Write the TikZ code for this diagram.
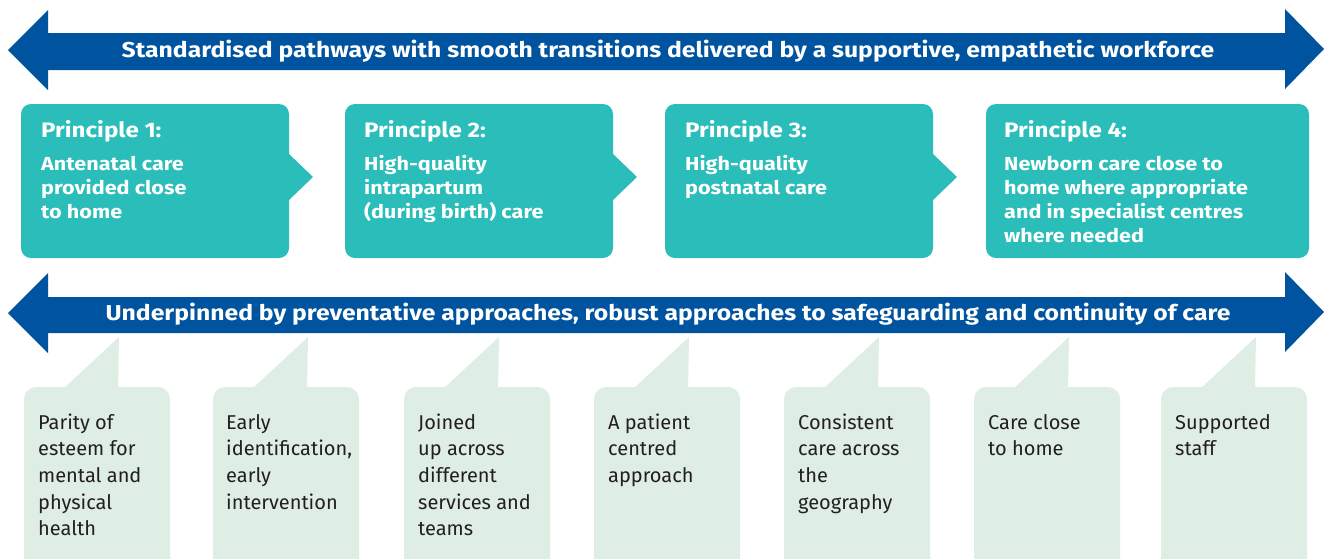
\documentclass[tikz,border=0pt]{standalone}
\usepackage{fontspec}
\setmainfont{Fira Sans}
\newfontfamily\wideboldfont[FakeStretch=1.15]{Fira Sans}
\newfontfamily\calloutfont{Fira Sans}
\definecolor{arrowblue}{HTML}{00539F}
\definecolor{teal}{HTML}{2BBDB9}
\definecolor{palegreen}{HTML}{DEEEE5}
\definecolor{darktext}{HTML}{231F20}
\tikzset{
  bigarrow/.style={fill=arrowblue, draw=none},
  principlebox/.style={fill=teal, draw=none, rounded corners=10pt},
  callbox/.style={fill=palegreen, draw=none, rounded corners=12pt},
  arrowtext/.style={text=white, font=\wideboldfont\bfseries\fontsize{21.5}{24}\selectfont, inner sep=0pt, anchor=base},
  ptitle/.style={text=white, font=\wideboldfont\bfseries\fontsize{21}{24}\selectfont, inner sep=0pt, anchor=base west},
  pbody/.style={text=white, font=\wideboldfont\bfseries\fontsize{18.8}{24}\selectfont, inner sep=0pt, anchor=base west, align=left},
  ctext/.style={text=darktext, font=\calloutfont\fontsize{20}{26.7}\selectfont, inner sep=0pt, anchor=base west, align=left},
}
\begin{document}
\begin{tikzpicture}[x=1pt,y=-1pt]
\useasboundingbox (0,0) rectangle (1324,558);
\clip (0,0) rectangle (1324,558);
% top arrow
\fill[bigarrow] (8,50) -- (48,10) -- (48,33) -- (1285,33) -- (1285,9) -- (1324,49) -- (1285,89) -- (1285,70) -- (48,70) -- (48,90) -- cycle;
\node[arrowtext] (toptext) at (668,57) {Standardised pathways with smooth transitions delivered by a supportive, empathetic workforce};
% bottom arrow
\fill[bigarrow] (8,313) -- (48,273) -- (48,297) -- (1285,297) -- (1285,272) -- (1324,312) -- (1285,352) -- (1285,333) -- (48,333) -- (48,353) -- cycle;
\node[arrowtext] (bottext) at (668,320) {Underpinned by preventative approaches, robust approaches to safeguarding and continuity of care};
% principle boxes
\foreach \x/\w in {21/268,345/268,665/268,986/323}{
  \fill[principlebox] (\x,104) rectangle ++(\w,154);
}
\foreach \x in {288,612,932}{
  \fill[teal] (\x,153) -- (\x+25,177) -- (\x,201) -- cycle;
}
% multi-line nodes: base anchor = baseline of last line
\node[ptitle] (p1t) at (41,137) {Principle 1:};
\node[pbody] (p1b) at (41,218) {Antenatal care\\provided close\\to home};
\node[ptitle] (p2t) at (364,137) {Principle 2:};
\node[pbody] (p2b) at (364,218) {High-quality\\intrapartum\\(during birth) care};
\node[ptitle] (p3t) at (685,137) {Principle 3:};
\node[pbody] (p3b) at (685,194) {High-quality\\postnatal care};
\node[ptitle] (p4t) at (1004,137) {Principle 4:};
\node[pbody] (p4b) at (1004,242) {Newborn care close to\\home where appropriate\\and in specialist centres\\where needed};
% callouts
\foreach \x in {24,213,404,594,784,974,1161}{
  \fill[callbox] (\x,387) rectangle ++(146,185);
  \fill[palegreen] (\x+39,389) -- (\x+95,337) -- (\x+94,389) -- cycle;
}
\node[ctext] (c1) at (38,535.8) {Parity of\\esteem for\\mental and\\physical\\health};
\node[ctext] (c2) at (226,509.1) {Early\\identification,\\early\\intervention};
\node[ctext] (c3) at (418,535.8) {Joined\\up across\\different\\services and\\teams};
\node[ctext] (c4) at (608,482.4) {A patient\\centred\\approach};
\node[ctext] (c5) at (798,509.1) {Consistent\\care across\\the\\geography};
\node[ctext] (c6) at (988,455.7) {Care close\\to home};
\node[ctext] (c7) at (1175,455.7) {Supported\\staff};
\end{tikzpicture}
\end{document}
